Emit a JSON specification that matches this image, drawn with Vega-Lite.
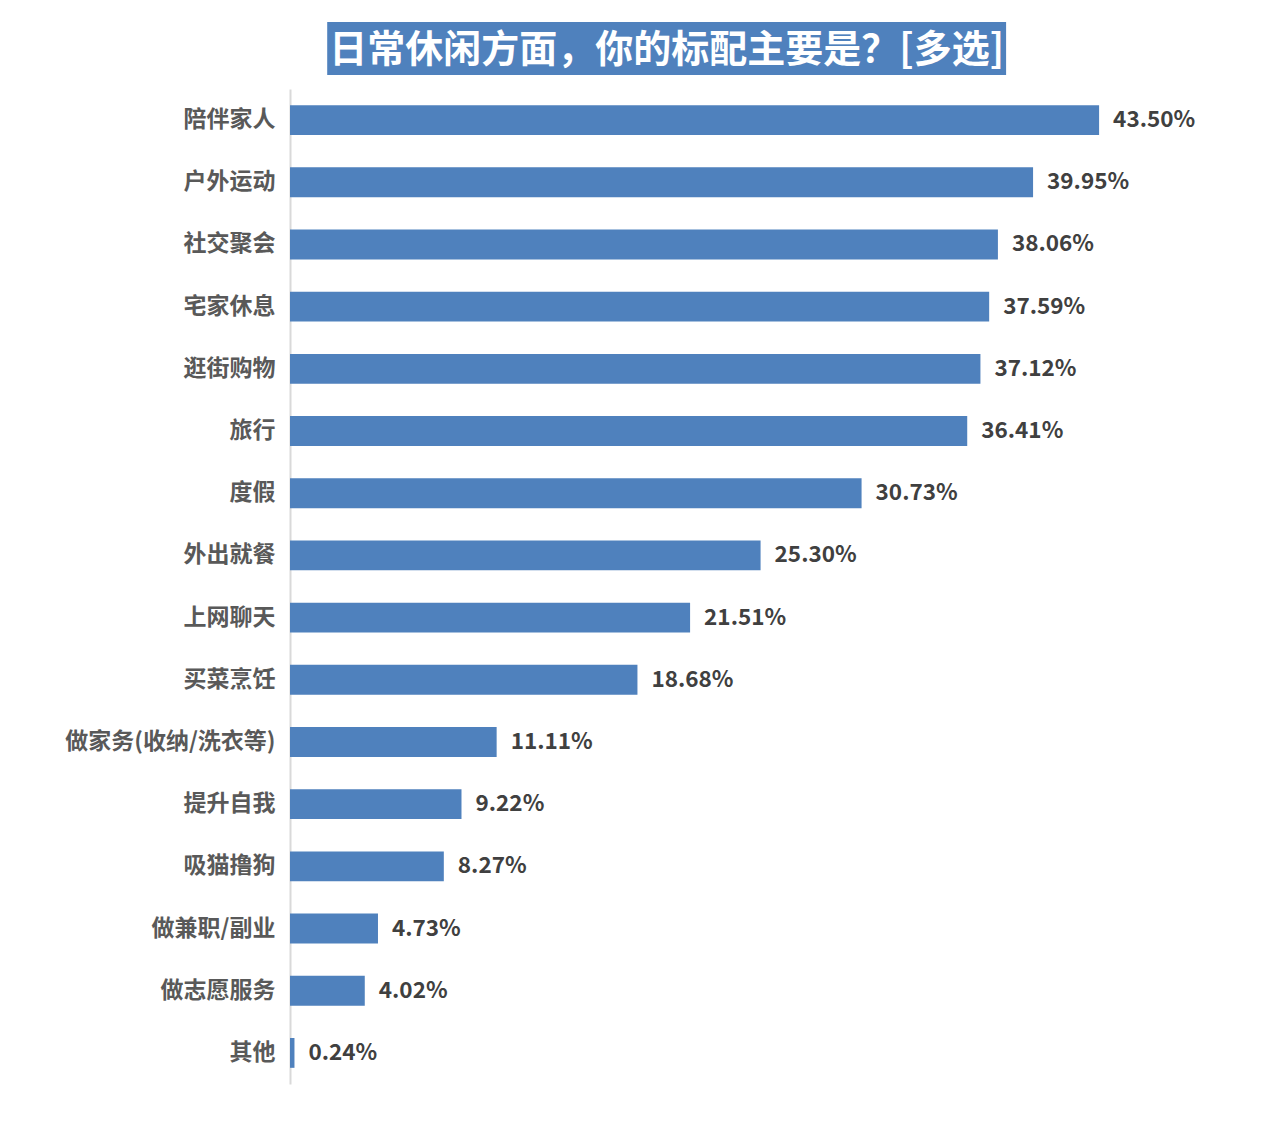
{
  "$schema": "https://vega.github.io/schema/vega-lite/v6.json",
  "background": "white",
  "padding": {"left": 64, "top": 22, "right": 10, "bottom": 10},
  "bounds": "flush",
  "spacing": 14,
  "config": {
    "view": {"stroke": null},
    "font": "Noto Sans CJK SC"
  },
  "vconcat": [
    {
      "width": 930,
      "height": 53,
      "data": {"values": [{"title": "日常休闲方面，你的标配主要是？[多选]"}]},
      "layer": [
        {
          "mark": {"type": "rect", "color": "#4F81BD"},
          "encoding": {
            "x": {"datum": 0.02, "type": "quantitative", "scale": {"domain": [0, 0.5]}, "axis": null},
            "x2": {"datum": 0.385}
          }
        },
        {
          "mark": {"type": "text", "color": "white", "fontSize": 38, "fontWeight": "bold", "align": "center", "baseline": "middle", "dy": 2, "font": "Noto Sans CJK SC"},
          "encoding": {
            "x": {"datum": 0.2025, "type": "quantitative", "scale": {"domain": [0, 0.5]}, "axis": null},
            "text": {"field": "title"}
          }
        }
      ]
    },
    {
      "width": 930,
      "height": 995,
      "data": {
        "values": [
          {"item": "陪伴家人", "pct": 0.4350},
          {"item": "户外运动", "pct": 0.3995},
          {"item": "社交聚会", "pct": 0.3806},
          {"item": "宅家休息", "pct": 0.3759},
          {"item": "逛街购物", "pct": 0.3712},
          {"item": "旅行", "pct": 0.3641},
          {"item": "度假", "pct": 0.3073},
          {"item": "外出就餐", "pct": 0.2530},
          {"item": "上网聊天", "pct": 0.2151},
          {"item": "买菜烹饪", "pct": 0.1868},
          {"item": "做家务(收纳/洗衣等)", "pct": 0.1111},
          {"item": "提升自我", "pct": 0.0922},
          {"item": "吸猫撸狗", "pct": 0.0827},
          {"item": "做兼职/副业", "pct": 0.0473},
          {"item": "做志愿服务", "pct": 0.0402},
          {"item": "其他", "pct": 0.0024}
        ]
      },
      "encoding": {
        "y": {
          "field": "item",
          "type": "nominal",
          "sort": "-x",
          "title": null,
          "scale": {"paddingInner": 0.52, "paddingOuter": 0.26},
          "axis": {
            "ticks": false,
            "domainColor": "#D9D9D9",
            "domainWidth": 2,
            "labelPadding": 15,
            "labelFontSize": 23,
            "labelFontWeight": "bold",
            "labelColor": "#595959",
            "labelFont": "Noto Sans CJK SC",
            "labelLimit": 500,
            "grid": false
          }
        },
        "x": {
          "field": "pct",
          "type": "quantitative",
          "scale": {"domain": [0, 0.5]},
          "axis": null
        }
      },
      "layer": [
        {"mark": {"type": "bar", "color": "#4F81BD"}},
        {
          "mark": {"type": "text", "align": "left", "baseline": "middle", "dx": 14, "fontSize": 22.5, "fontWeight": "bold", "color": "#404040", "font": "Noto Sans CJK SC"},
          "encoding": {
            "text": {"field": "pct", "type": "quantitative", "format": ".2%"}
          }
        }
      ]
    }
  ]
}
